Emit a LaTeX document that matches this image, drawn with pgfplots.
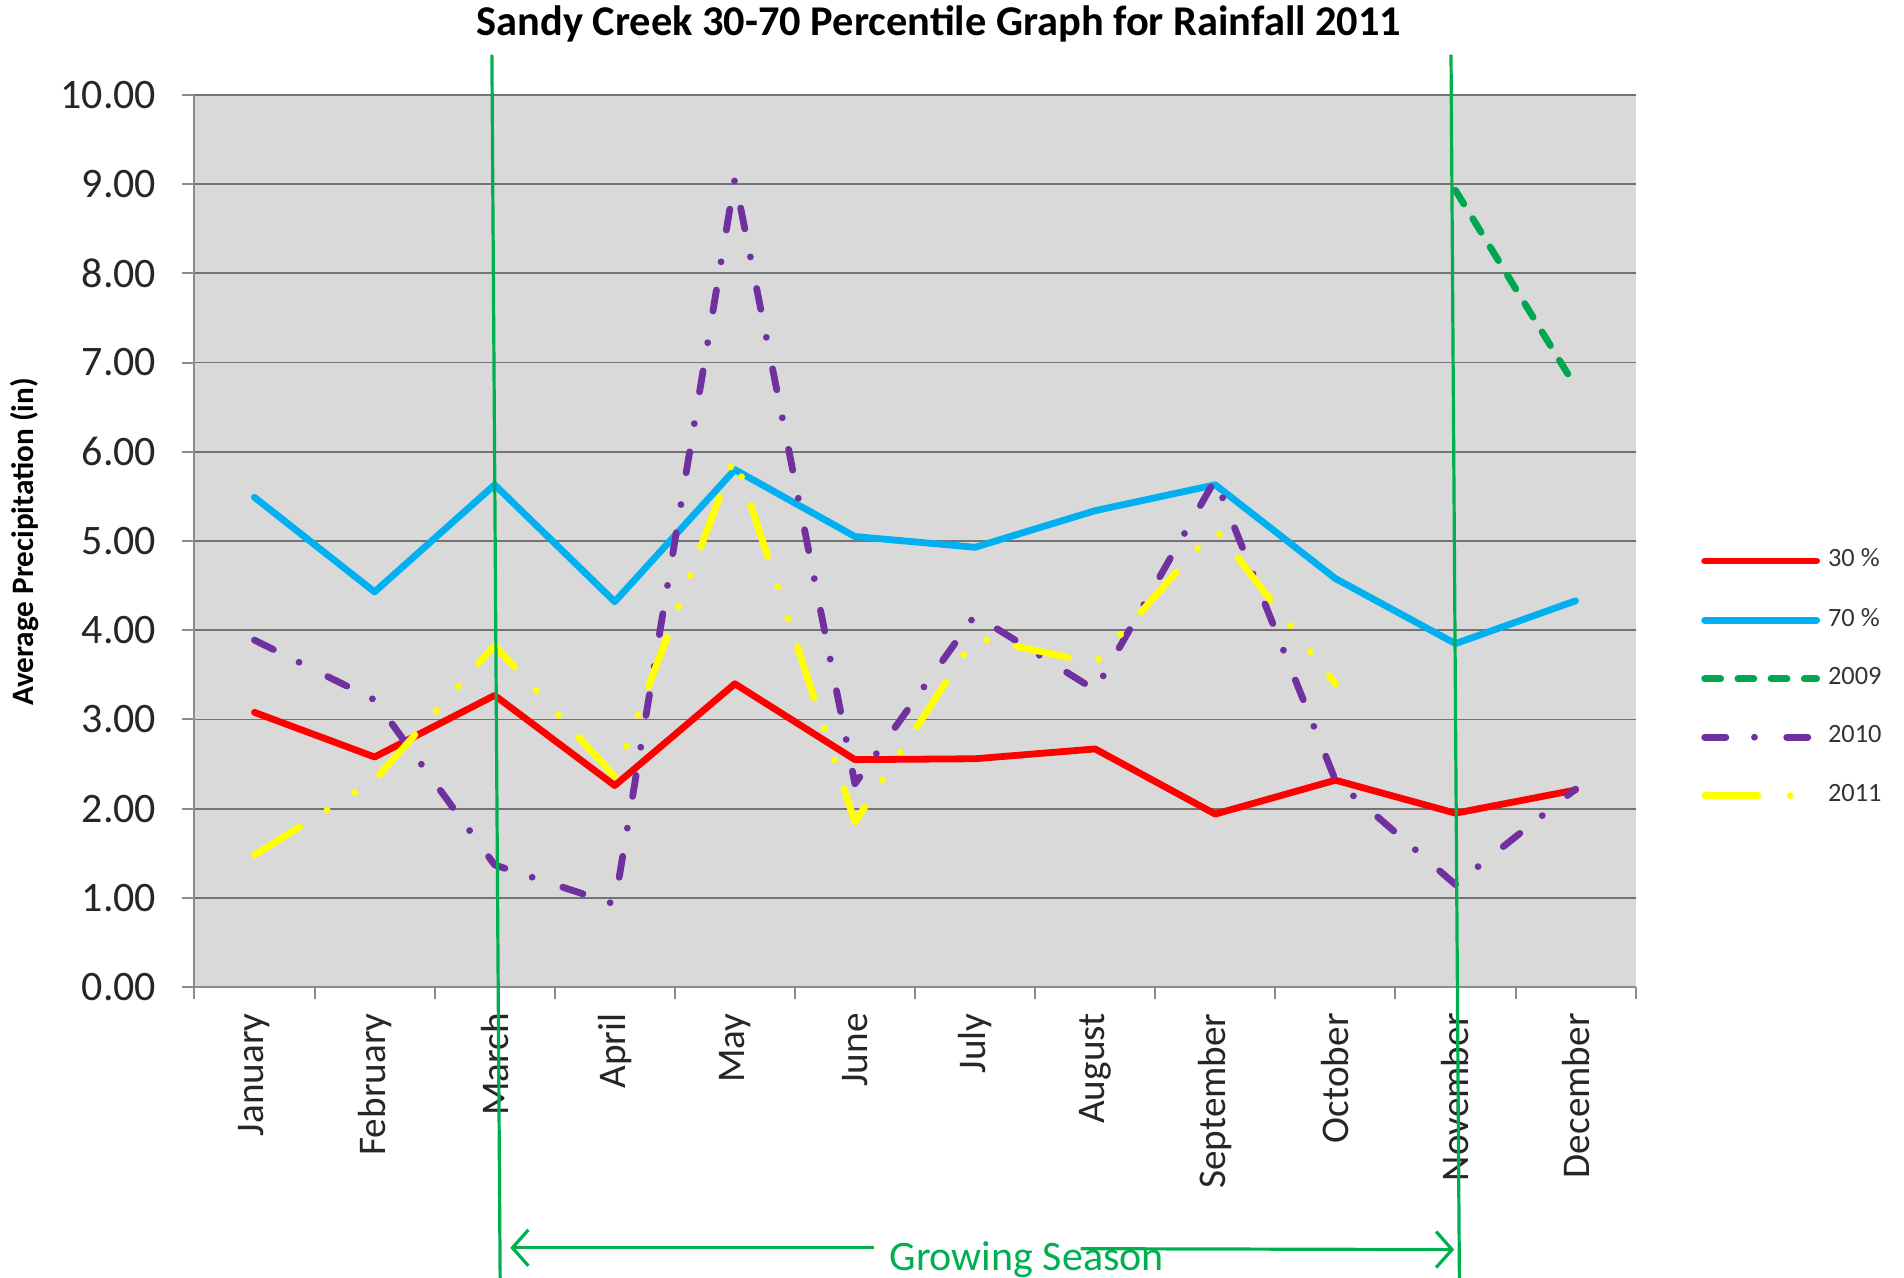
\documentclass[border=0pt]{standalone}
\usepackage{fontspec}
\setmainfont{Carlito}
\usepackage{pgfplots}
\usepackage{pgfplotstable}
\pgfplotsset{compat=1.18}
\usetikzlibrary{arrows.meta}

\definecolor{pctred}{RGB}{255,0,0}
\definecolor{pctblue}{RGB}{0,176,240}
\definecolor{yrgreen}{RGB}{0,166,80}
\definecolor{yrpurple}{RGB}{112,48,160}
\definecolor{yryellow}{RGB}{255,255,0}
\definecolor{seasongreen}{RGB}{0,176,80}
\definecolor{plotgray}{RGB}{217,217,217}

% month index (0 = January), 30th and 70th percentile rainfall (in)
\pgfplotstableread{
m p30 p70
0 3.08 5.49
1 2.58 4.43
2 3.27 5.63
3 2.26 4.32
4 3.40 5.80
5 2.55 5.05
6 2.56 4.93
7 2.67 5.34
8 1.94 5.63
9 2.32 4.58
10 1.95 3.85
11 2.21 4.33
}\pctdata

\pgfplotstableread{
m rain
10 8.93
11 6.73
}\yearA

\pgfplotstableread{
m rain
0 3.89
1 3.22
2 1.37
3 0.93
4 9.06
5 2.28
6 4.17
7 3.33
8 5.69
9 2.32
10 1.15
11 2.22
}\yearB

\pgfplotstableread{
m rain
0 1.48
1 2.32
2 3.83
3 2.36
4 5.95
5 1.85
6 3.92
7 3.63
8 5.14
9 3.40
}\yearC

\begin{document}
\begin{tikzpicture}
\begin{axis}[
  at={(0,0)}, anchor=south west,
  scale only axis, width=360.3pt, height=223.1pt,
  xmin=-0.5, xmax=11.5, ymin=0, ymax=10,
  clip=false,
  axis background/.style={fill=plotgray},
  axis lines*=left,
  axis line style={draw=black!45, line width=0.5pt},
  ymajorgrids,
  grid style={draw=black!55, line width=0.45pt},
  ytick={0,1,...,10},
  xtick={0,...,11},
  xticklabels={January,February,March,April,May,June,July,August,September,October,November,December},
  minor xtick={-0.5,0.5,...,11.5},
  major x tick style={draw=none},
  tick align=outside,
  major tick length=3pt,
  minor tick length=3pt,
  tick style={draw=black!45, line width=0.5pt},
  xticklabel style={rotate=90, anchor=east, font=\fontsize{9.8}{11}\selectfont, text=black!85},
  yticklabel style={xshift=-3pt, font=\fontsize{10.5}{12}\selectfont, text=black!85,
    /pgf/number format/fixed, /pgf/number format/fixed zerofill,
    /pgf/number format/precision=2, /pgf/number format/assume math mode=true},
  legend style={at={(1.045,0.501)}, anchor=north west, draw=none, fill=none,
    font=\fontsize{6.6}{8}\selectfont, text=black!80, row sep=4.8pt, inner sep=0pt},
  legend cell align=left,
  legend image code/.code={\draw[#1] (0pt,0pt) -- (28pt,0pt);},
  every axis plot/.append style={line width=1.7pt, line join=round, line cap=round},
]
\addplot[pctred] table[x=m, y=p30] {\pctdata};
\addlegendentry{30 \%}
\addplot[pctblue] table[x=m, y=p70] {\pctdata};
\addlegendentry{70 \%}
\addplot[yrgreen, dash pattern=on 4pt off 4.3pt] table[x=m, y=rain] {\yearA};
\addlegendentry{2009}
\addplot[yrpurple, dash pattern=on 5.3pt off 7.15pt on 0pt off 8.05pt] table[x=m, y=rain] {\yearB};
\addlegendentry{2010}
\addplot[yryellow, dash pattern=on 13.3pt off 8.1pt on 0pt off 8.25pt on 0pt off 7.6pt] table[x=m, y=rain] {\yearC};
\addlegendentry{2011}

% growing season markers
\draw[seasongreen, line width=0.8pt] (axis cs:1.977,10.45) -- (axis cs:2.047,-3.5);
\draw[seasongreen, line width=0.8pt] (axis cs:9.963,10.45) -- (axis cs:10.034,-3.5);
\draw[seasongreen, line width=0.8pt, {Straight Barb[length=4pt,width=9pt]}-] (axis cs:2.13,-2.92) -- (axis cs:5.16,-2.92);
\draw[seasongreen, line width=0.8pt, -{Straight Barb[length=4pt,width=9pt]}] (axis cs:6.88,-2.93) -- (axis cs:9.99,-2.94);
\node[seasongreen, anchor=base, inner sep=0pt, font=\fontsize{10.5}{12}\selectfont] at (axis cs:6.43,-3.17) {Growing Season};

% title and axis label
\node[anchor=base, inner sep=0pt, font=\bfseries\fontsize{10.6}{12}\selectfont] at (axis cs:5.70,10.667) {Sandy Creek 30-70 Percentile Graph for Rainfall 2011};
\node[rotate=90, inner sep=0pt, font=\bfseries\fontsize{7.8}{9}\selectfont] at (axis cs:-1.915,4.99) {Average Precipitation (in)};
\end{axis}
\pgfresetboundingbox
\path[use as bounding box] (-48.6pt,-72.45pt) rectangle ++(476pt,319.25pt);
\end{tikzpicture}
\end{document}
